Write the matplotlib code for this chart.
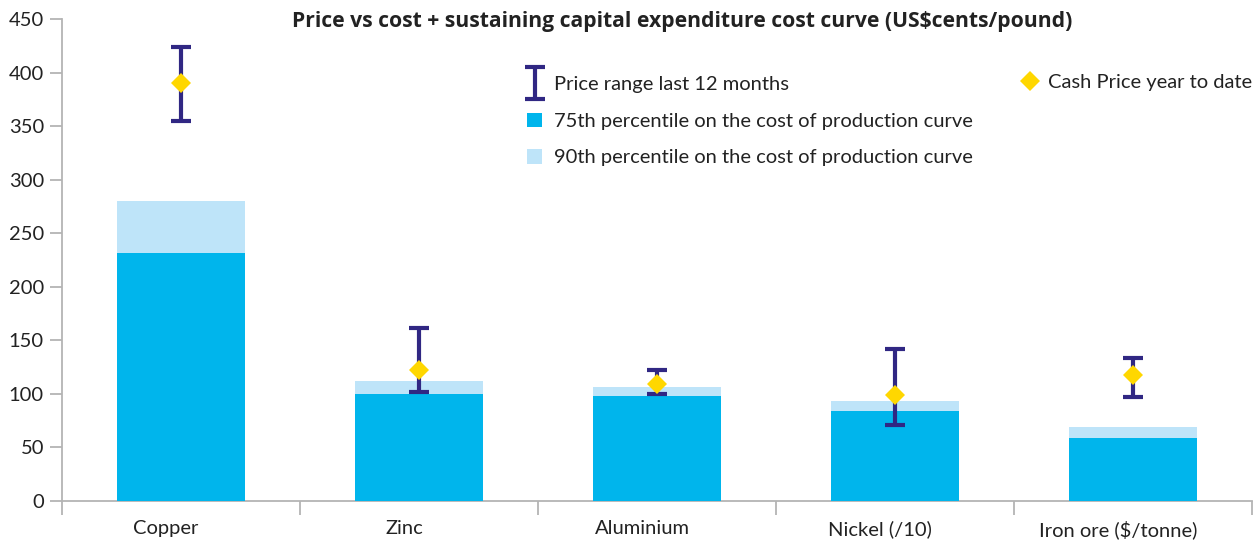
import matplotlib
matplotlib.use("Agg")
import matplotlib.pyplot as plt
import matplotlib.transforms as mtransforms
from matplotlib.patches import Patch
from matplotlib.legend_handler import HandlerErrorbar
import numpy as np

# --- Data ---
categories = ["Copper", "Zinc", "Aluminium", "Nickel (/10)", "Iron ore ($/tonne)"]
p75 = [231, 100, 98, 84, 59]
p90 = [280, 112, 106, 93, 69]
range_low = [355, 102, 100, 71, 97]
range_high = [424, 161, 122, 142, 133]
cash_price = [390, 122, 109, 99, 117]
yticks = [0, 50, 100, 150, 200, 250, 300, 350, 400, 450]

# --- Colours ---
c75 = "#00B5EC"
c90 = "#BEE4F9"
cnavy = "#302783"
cyellow = "#FFD700"
cgrey = "#B4B4B4"
ctext = "#222222"

plt.rcParams['font.family'] = ['Lato', 'DejaVu Sans']
fs = 14.5

fig = plt.figure(figsize=(12.55, 5.4), dpi=100)
ax = fig.add_axes([62 / 1255, 1 - 500.7 / 540, 1190 / 1255, 481.7 / 540])

x = np.arange(len(categories))
width = 0.54

# --- Bars: 90th behind, 75th in front ---
ax.bar(x, p90, width=width, color=c90, zorder=2)
ax.bar(x, p75, width=width, color=c75, zorder=3)

# --- Price range error bars ---
lo = np.array(range_low)
hi = np.array(range_high)
mid = (lo + hi) / 2
eb = ax.errorbar(x, mid, yerr=[mid - lo, hi - mid], fmt='none', ecolor=cnavy,
                 elinewidth=3, capsize=7.5, capthick=3, zorder=4)

# --- Cash price diamonds ---
dm, = ax.plot(x, cash_price, linestyle='none', marker='D', markersize=10.5,
              color=cyellow, markeredgewidth=0, zorder=5)

# --- Axes styling ---
ax.set_xlim(-0.5, len(categories) - 0.5)
ax.set_ylim(0, 450)
ax.set_yticks(yticks)
ax.tick_params(axis='y', length=9, width=1.3, color=cgrey, labelsize=fs,
               labelcolor=ctext, pad=4)
ax.set_xticks(np.arange(len(categories) + 1) - 0.5)
ax.set_xticklabels([])
ax.set_xticks(x, minor=True)
ax.set_xticklabels(categories, minor=True)
ax.tick_params(axis='x', which='major', length=10, width=1.3, color=cgrey)
ax.tick_params(axis='x', which='minor', length=0, labelsize=fs,
               labelcolor=ctext, pad=14)
offset = mtransforms.ScaledTranslation(-15 / 100, 0, fig.dpi_scale_trans)
for lab in ax.get_xticklabels(minor=True):
    lab.set_transform(lab.get_transform() + offset)

for s in ['top', 'right']:
    ax.spines[s].set_visible(False)
for s in ['left', 'bottom']:
    ax.spines[s].set_color(cgrey)
    ax.spines[s].set_linewidth(1.3)

# --- Title ---
fig.text(682 / 1255, 1 - 22 / 540, "Price vs cost + sustaining capital expenditure cost curve (US$cents/pound)",
         ha='center', va='center', fontsize=15.2, fontweight='bold', color=ctext,
         family=['Open Sans', 'DejaVu Sans'])

# --- Legends ---
h75 = Patch(facecolor=c75, edgecolor='none')
h90 = Patch(facecolor=c90, edgecolor='none')
leg1 = ax.legend([eb, h75, h90],
                 ["Price range last 12 months",
                  "75th percentile on the cost of production curve",
                  "90th percentile on the cost of production curve"],
                 handler_map={type(eb): HandlerErrorbar(yerr_size=0.8)},
                 loc='upper left', bbox_to_anchor=(527 / 1255, 1 - 76 / 540),
                 bbox_transform=fig.transFigure, frameon=False, fontsize=fs,
                 handlelength=0.75, handleheight=0.75, handletextpad=0.6,
                 labelspacing=0.95, borderpad=0, borderaxespad=0,
                 labelcolor=ctext)
ax.add_artist(leg1)
ax.legend([dm], ["Cash Price year to date"], loc='upper left',
          bbox_to_anchor=(1021 / 1255, 1 - 74 / 540), bbox_transform=fig.transFigure,
          frameon=False, fontsize=fs, handlelength=0.9, handletextpad=0.45,
          borderpad=0, borderaxespad=0, labelcolor=ctext)

fig.savefig("out.png", dpi=100)
plt.close(fig)
